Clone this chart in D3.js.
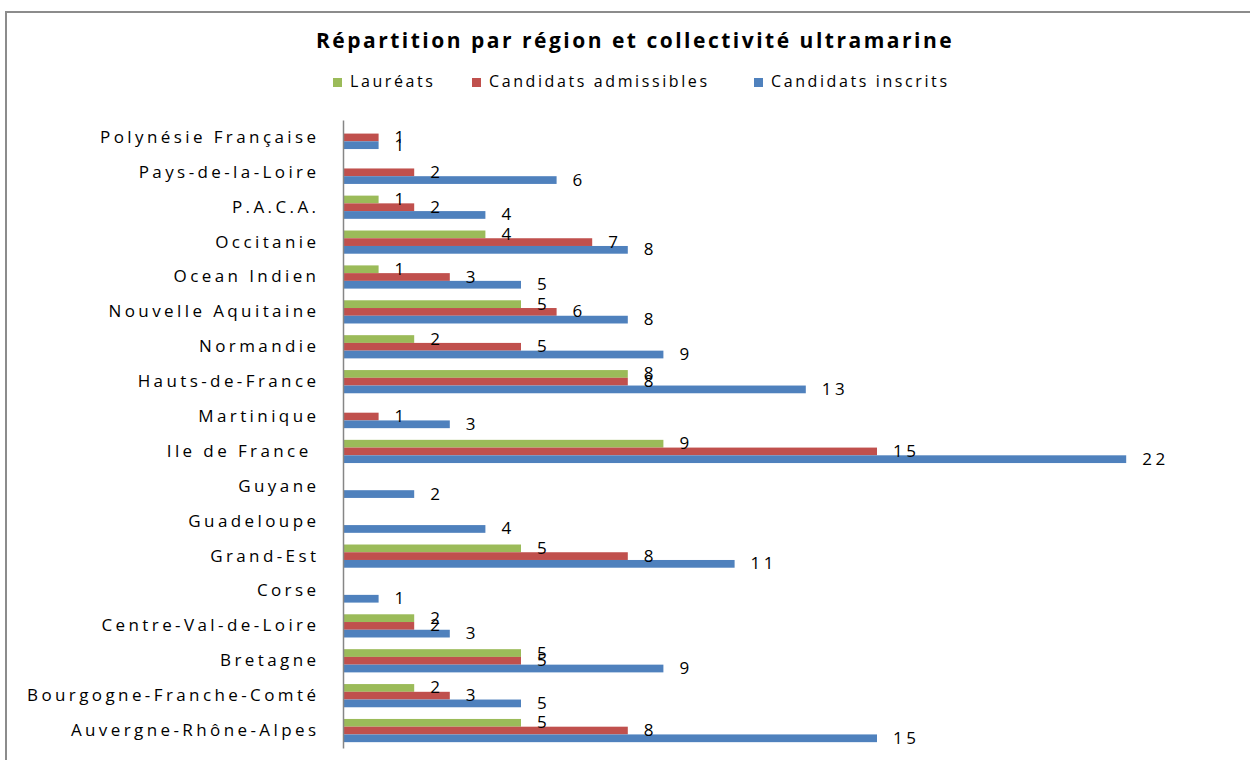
<!DOCTYPE html>
<html><head><meta charset="utf-8">
<script src="https://cdn.jsdelivr.net/npm/d3@7"></script>
<style>
body{margin:0;background:#fff;}
text{font-family:"Open Sans",sans-serif;fill:#000;white-space:pre;}
</style></head>
<body><svg id="c" width="1250" height="760"></svg>
<script>
const title = "Répartition par région et collectivité ultramarine";
const categories = ["Polynésie Française","Pays-de-la-Loire","P.A.C.A.","Occitanie","Ocean Indien","Nouvelle Aquitaine","Normandie","Hauts-de-France","Martinique","Ile de France ","Guyane","Guadeloupe","Grand-Est","Corse","Centre-Val-de-Loire","Bretagne","Bourgogne-Franche-Comté","Auvergne-Rhône-Alpes"];
const seriesNames = ["Lauréats","Candidats admissibles","Candidats inscrits"];
const laureats    = [0,0,1,4,1,5,2,8,0,9,0,0,5,0,2,5,2,5];
const admissibles = [1,2,2,7,3,6,5,8,1,15,0,0,8,0,2,5,3,8];
const inscrits    = [1,6,4,8,5,8,9,13,3,22,2,4,11,1,3,9,5,15];
const colors = ["#9BBB59","#C0504D","#4F81BD"];

const seriesValues = [laureats, admissibles, inscrits];
const svg = d3.select("#c");

// outer frame
svg.append("rect").attr("x",6).attr("y",12).attr("width",1300).attr("height",800)
  .attr("fill","none").attr("stroke","#8c8c8c").attr("stroke-width",2);

// title
svg.append("text").attr("x",635).attr("y",42).attr("text-anchor","middle")
  .attr("dominant-baseline","middle").style("font-weight","bold").style("font-size","21px")
  .style("letter-spacing","2.5px").text(title);

// legend
const legendX = [333, 472, 754];
const lg = svg.append("g");
seriesNames.forEach((s,i)=>{
  lg.append("rect").attr("x",legendX[i]).attr("y",78).attr("width",9).attr("height",9).attr("fill",colors[i]);
  lg.append("text").attr("x",legendX[i]+17).attr("y",83).attr("dominant-baseline","middle")
    .style("font-size","16px").style("letter-spacing","2.6px").text(s);
});

const x = d3.scaleLinear().domain([0,25]).range([343,1233]);
const y = d3.scaleBand().domain(categories).range([120,748]).paddingInner(0.335).paddingOuter(0.1675);
const ys = d3.scaleBand().domain(seriesNames).range([0,y.bandwidth()]);

const rows = categories.map((c,ci)=>({c, vals: seriesNames.map((s,si)=>({s,si,v:seriesValues[si][ci]}))}));

const g = svg.append("g");
const grp = g.selectAll("g.grp").data(rows).join("g").attr("class","grp")
  .attr("transform",d=>`translate(0,${y(d.c)})`);
grp.selectAll("rect").data(d=>d.vals).join("rect")
  .attr("x",x(0)).attr("y",d=>ys(d.s)).attr("height",ys.bandwidth())
  .attr("width",d=>x(d.v)-x(0)).attr("fill",d=>colors[d.si]);
grp.selectAll("text.lbl").data(d=>d.vals.filter(v=>v.v>0)).join("text").attr("class","lbl")
  .attr("x",d=>x(d.v)+16).attr("y",d=>ys(d.s)+ys.bandwidth()/2+1)
  .attr("dominant-baseline","middle").style("font-size","17px").style("letter-spacing","3.5px")
  .text(d=>d.v);

// category axis
const yAxis = d3.axisLeft(y).tickSize(0).tickPadding(23.6);
const ax = svg.append("g").attr("transform",`translate(${x(0)},0)`).call(yAxis);
ax.select(".domain").attr("stroke","#868686").attr("stroke-width",1.5);
ax.selectAll("text").style("font-size","17px").style("letter-spacing","3.4px")
  .style("font-family","'Open Sans',sans-serif").attr("fill","#000");
</script></body></html>
